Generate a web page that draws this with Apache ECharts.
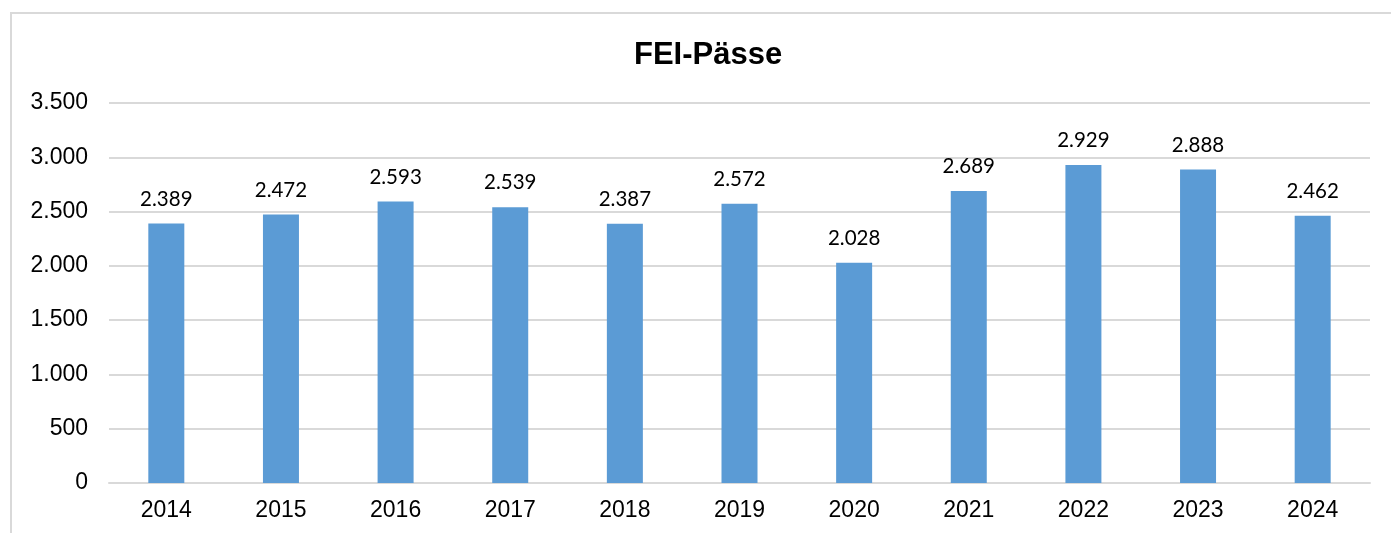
<!DOCTYPE html>
<html>
<head>
<meta charset="utf-8">
<script src="https://cdn.jsdelivr.net/npm/echarts@6/dist/echarts.min.js"></script>
<style>
  html, body { margin: 0; padding: 0; background: #fff; }
  #frame { position: absolute; left: 10px; top: 12px; right: 0; bottom: 0;
           border-top: 2px solid #d9d9d9; border-left: 2px solid #d9d9d9; }
  #chart { position: absolute; left: 0; top: 0; width: 1391px; height: 533px; }
</style>
</head>
<body>
<div id="frame"></div>
<div id="chart"></div>
<script>
  "use strict";

  // Jahre und Anzahl FEI-Pässe
  const years = ["2014", "2015", "2016", "2017", "2018", "2019", "2020", "2021", "2022", "2023", "2024"];
  const passes = [2389, 2472, 2593, 2539, 2387, 2572, 2028, 2689, 2929, 2888, 2462];

  // deutsche Tausendertrennung
  const fmt = (v) => String(v).replace(/\B(?=(\d{3})+(?!\d))/g, ".");

  const chart = echarts.init(document.getElementById("chart"));
  chart.setOption({
    animation: false,
    title: {
      text: "FEI-Pässe",
      left: 629,
      top: 35,
      textStyle: { fontFamily: "Liberation Sans", fontWeight: "bold", fontSize: 31, color: "#000" }
    },
    grid: { left: 109, right: 21, top: 103, bottom: 50 },
    xAxis: {
      type: "category",
      data: years,
      axisTick: { show: false },
      axisLine: { lineStyle: { color: "#d9d9d9", width: 2 } },
      axisLabel: { color: "#000", fontFamily: "Liberation Sans", fontSize: 23, margin: 16 }
    },
    yAxis: {
      type: "value",
      min: 0,
      max: 3500,
      interval: 500,
      axisLabel: { color: "#000", fontFamily: "Liberation Sans", fontSize: 23, margin: 21, formatter: fmt },
      splitLine: { lineStyle: { color: "#d9d9d9", width: 2 } }
    },
    series: [{
      type: "bar",
      data: passes,
      barWidth: 36,
      itemStyle: { color: "#5b9bd5" },
      label: {
        show: true,
        position: "top",
        distance: 14,
        color: "#000",
        fontFamily: "Lato",
        fontSize: 20.5,
        formatter: (p) => fmt(p.value)
      }
    }]
  });
  window.addEventListener("resize", () => chart.resize());
</script>
</body>
</html>
